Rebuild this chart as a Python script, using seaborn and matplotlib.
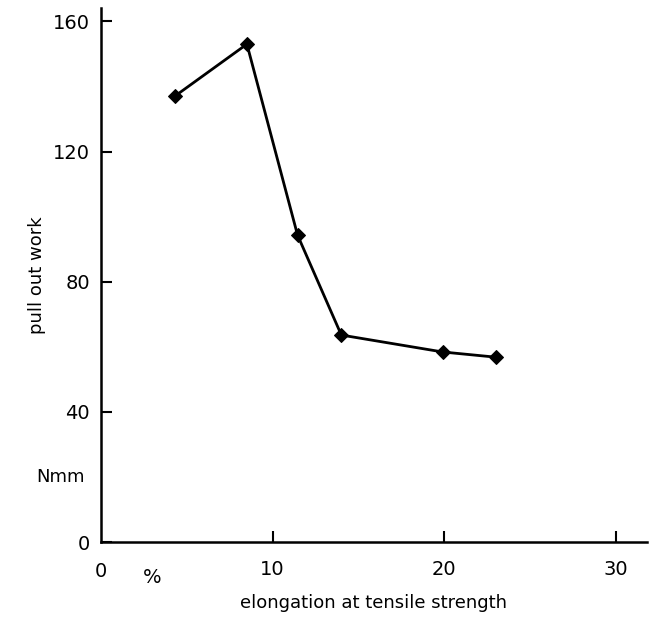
import matplotlib
matplotlib.use("Agg")
import matplotlib.pyplot as plt
import seaborn as sns
import pandas as pd

elongation = [4.3, 8.5, 11.45, 14.0, 19.9, 23.0]
pull_out_work = [137, 153, 94.3, 63.6, 58.4, 56.8]
x_ticks = [10, 20, 30]
y_ticks = [0, 40, 80, 120, 160]

sns.set_style("ticks")
plt.rcParams['font.family'] = ['DejaVu Sans']
plt.rcParams['text.color'] = 'black'
plt.rcParams['axes.labelcolor'] = 'black'
plt.rcParams['xtick.color'] = 'black'
plt.rcParams['ytick.color'] = 'black'

df = pd.DataFrame({"elongation": elongation, "work": pull_out_work})

fig = plt.figure(figsize=(6.57, 6.22), dpi=100)
ax = fig.add_axes([0.1537, 0.1286, 0.831, 0.858])
sns.lineplot(data=df, x="elongation", y="work", ax=ax, color="black",
             marker="D", markersize=7, markeredgecolor="black", linewidth=2.0,
             sort=False)
ax.set_xlim(0, 31.8)
ax.set_ylim(0, 164)
ax.set_xticks(x_ticks)
ax.set_yticks(y_ticks)
ax.tick_params(direction="in", length=8, width=1.5, labelsize=14, pad=8,
               labelcolor="black")
ax.tick_params(axis="x", pad=13)
for s in ["top", "right"]:
    ax.spines[s].set_visible(False)
for s in ["left", "bottom"]:
    ax.spines[s].set_linewidth(1.8)
    ax.spines[s].set_color("black")
ax.set_xlabel("elongation at tensile strength", fontsize=13, labelpad=11,
              color="black")
ax.set_ylabel("pull out work", fontsize=13, labelpad=5, color="black")
ax.text(-0.03, 20, "Nmm", transform=ax.get_yaxis_transform(), ha="right",
        va="center", fontsize=13, color="black")
ax.text(0, -0.055, "0", transform=ax.get_xaxis_transform(), ha="center",
        va="center", fontsize=14, color="black")
ax.text(3.0, -0.066, "%", transform=ax.get_xaxis_transform(), ha="center",
        va="center", fontsize=14, color="black")
fig.savefig("out.png", dpi=100)
